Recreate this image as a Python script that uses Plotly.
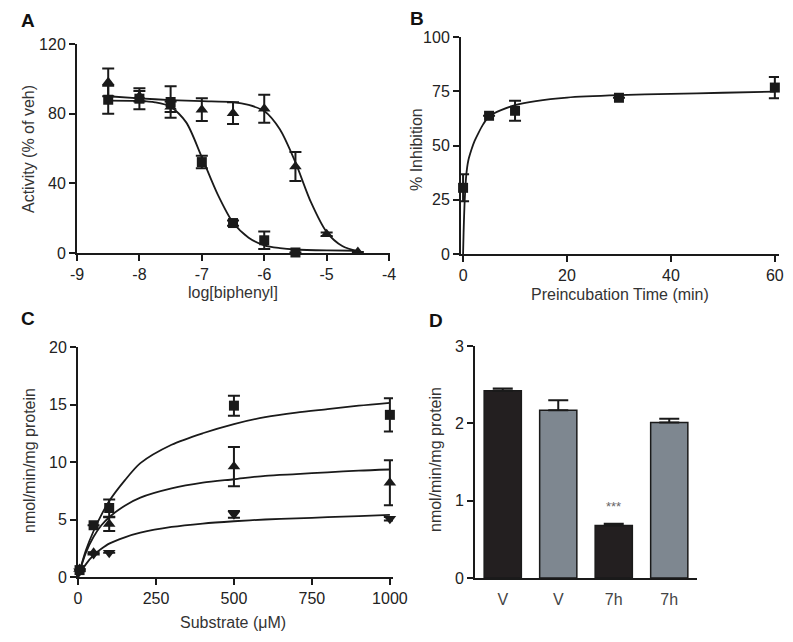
import plotly.graph_objects as go

# ---- panel A: activity vs log[biphenyl]
a_tri_x = [-8.5, -8, -7.5, -7, -6.5, -6, -5.5, -5, -4.5]
a_tri_y = [98, 90, 84, 82.3, 80.3, 82.8, 49.7, 10.7, 0.6]
a_tri_err = [8, 3, 3, 6.5, 6.3, 8, 8.3, 1, 0]
a_sq_x = [-8.5, -8, -7.5, -7, -6.5, -6, -5.5]
a_sq_y = [88, 88.6, 86.7, 52.2, 17.2, 7.3, 0.3]
a_sq_err = [8, 6, 9, 3.6, 1.5, 5, 0]
# fitted curves
a_sq_fit_x = [-8.5, -8, -7.75, -7.5, -7.25, -7, -6.75, -6.5, -6.25, -6, -5.75, -5.5, -5, -4.5]
a_sq_fit_y = [87.5, 87.3, 86.5, 84, 75, 55, 34, 17.5, 8.8, 4.4, 2.8, 2, 1.5, 1.3]
a_tri_fit_x = [-8.5, -8, -7.5, -7, -6.5, -6.25, -6, -5.75, -5.5, -5.25, -5, -4.75, -4.5]
a_tri_fit_y = [90, 88.8, 87.8, 87.2, 86.6, 85, 81.5, 71, 52, 29, 12, 4, 1]
a_ticks = [-9, -8, -7, -6, -5, -4]

# ---- panel B: % inhibition vs preincubation time
b_x = [0, 5, 10, 30, 60]
b_y = [30.5, 63.7, 66, 72, 76.7]
b_err = [6.2, 0, 4.6, 0, 4.9]
b_fit_x = [0, 0.1, 0.3, 0.64, 1, 1.6, 2.2, 2.9, 3.8, 4.8, 6, 7.3, 10, 14, 20, 30, 40, 50, 60]
b_fit_y = [0, 10, 24, 37, 43, 48, 52, 55.5, 59.5, 62.9, 64.9, 66.3, 68.6, 70.5, 72.1, 73.2, 73.8, 74.3, 74.8]

# ---- panel C: rate vs substrate
c_x = [5, 50, 100, 500, 1000]
c_sq = [0.6, 4.5, 6.0, 14.9, 14.1]
c_sq_err = [0, 0, 0.75, 0.87, 1.45]
c_tri = [0.7, 2.1, 4.6, 9.6, 8.2]
c_tri_err = [0, 0, 0.6, 1.7, 1.95]
c_dn = [0.5, 2.0, 2.1, 5.45, 5.07]
c_dn_err = [0, 0, 0, 0.3, 0.15]
c_fit_x = [0, 25, 50, 75, 100, 150, 200, 300, 400, 500, 600, 700, 800, 900, 1000]
c_sq_fit = [0, 2.3, 4.0, 5.4, 6.6, 8.4, 9.9, 11.5, 12.5, 13.3, 13.9, 14.3, 14.6, 14.9, 15.15]
c_tri_fit = [0, 2.1, 3.5, 4.5, 5.2, 6.2, 6.9, 7.7, 8.2, 8.5, 8.8, 8.95, 9.1, 9.25, 9.35]
c_dn_fit = [0, 1.1, 1.9, 2.45, 2.9, 3.45, 3.85, 4.35, 4.65, 4.85, 5.0, 5.1, 5.2, 5.3, 5.4]

# ---- panel D: bars
d_labels = ["V", "V", "7h", "7h"]
d_vals = [2.42, 2.17, 0.68, 2.01]
d_err = [0.03, 0.13, 0.02, 0.05]
d_colors = ["#231f20", "#7e8790", "#231f20", "#7e8790"]

# the page body keeps its default 8px margin, so the figure is drawn 16px
# smaller and all target positions (measured on the 793x642 page) shift by 8
OFF = 8
W, H = 793 - 2 * OFF, 642 - 2 * OFF
INK = "#1a1a1a"
FONT = "Liberation Sans, Arial, sans-serif"


def px(x0, x1):
    return [(x0 - OFF) / W, (x1 - OFF) / W]


def py(top, bottom):
    return [1 - (bottom - OFF) / H, 1 - (top - OFF) / H]


fig = go.Figure()


def pts(x, y, err, sym, size, xa, ya):
    fig.add_trace(go.Scatter(
        x=x, y=y, mode="markers", xaxis=xa, yaxis=ya, cliponaxis=False,
        marker=dict(symbol=sym, size=size, color=INK, line=dict(width=0)),
        error_y=dict(type="data", array=err, visible=True, color=INK, thickness=2, width=6),
        showlegend=False))


def curve(x, y, xa, ya):
    fig.add_trace(go.Scatter(
        x=x, y=y, mode="lines", xaxis=xa, yaxis=ya, cliponaxis=False,
        line=dict(color=INK, width=1.8, shape="spline", smoothing=0.8),
        showlegend=False))


# A
curve(a_sq_fit_x, a_sq_fit_y, "x", "y")
curve(a_tri_fit_x, a_tri_fit_y, "x", "y")
pts(a_tri_x, a_tri_y, a_tri_err, "triangle-up", 11, "x", "y")
pts(a_sq_x, a_sq_y, a_sq_err, "square", 10, "x", "y")
# B
curve(b_fit_x, b_fit_y, "x2", "y2")
pts(b_x, b_y, b_err, "square", 10, "x2", "y2")
# C
curve(c_fit_x, c_sq_fit, "x3", "y3")
curve(c_fit_x, c_tri_fit, "x3", "y3")
curve(c_fit_x, c_dn_fit, "x3", "y3")
pts(c_x, c_dn, c_dn_err, "triangle-down", 11, "x3", "y3")
pts(c_x, c_tri, c_tri_err, "triangle-up", 11, "x3", "y3")
pts(c_x, c_sq, c_sq_err, "square", 10, "x3", "y3")
# D
fig.add_trace(go.Bar(
    x=list(range(len(d_vals))), y=d_vals, xaxis="x4", yaxis="y4", width=0.67,
    marker=dict(color=d_colors, line=dict(color=INK, width=1.5)),
    error_y=dict(type="data", array=d_err, arrayminus=[0] * len(d_err), symmetric=False,
                 visible=True, color=INK, thickness=2, width=10),
    showlegend=False))

axis_common = dict(showline=True, linecolor=INK, linewidth=2, showgrid=False, zeroline=False,
                   ticks="outside", ticklen=6, tickwidth=1.5, tickcolor=INK, automargin=False,
                   tickfont=dict(family=FONT, size=16, color="#222"))

fig.update_layout(
    width=W, height=H, margin=dict(l=0, r=0, t=0, b=0, pad=0), autosize=False,
    paper_bgcolor="white", plot_bgcolor="white",
    # x ranges padded a touch so the end error bars are not cut off
    xaxis=dict(domain=px(77, 390), range=[-9, -3.985], tickvals=a_ticks,
               ticktext=[str(t) for t in a_ticks], anchor="y", **axis_common),
    yaxis=dict(domain=py(44, 253), range=[0, 120], tickvals=[0, 40, 80, 120],
               anchor="x", **axis_common),
    xaxis2=dict(domain=px(461, 779), range=[-0.4, 60.8], tickvals=[0, 20, 40, 60],
                anchor="y2", **axis_common),
    yaxis2=dict(domain=py(37, 254), range=[0, 100], tickvals=[0, 25, 50, 75, 100],
                anchor="x2", **axis_common),
    xaxis3=dict(domain=px(78, 393), range=[0, 1010], tickvals=[0, 250, 500, 750, 1000],
                anchor="y3", **axis_common),
    yaxis3=dict(domain=py(347, 577), range=[0, 20], tickvals=[0, 5, 10, 15, 20],
                anchor="x3", **axis_common),
    xaxis4=dict(domain=px(475, 697), range=[-0.5, 3.5], tickvals=[0, 1, 2, 3],
                ticktext=d_labels, anchor="y4", showline=True, linecolor=INK, linewidth=2,
                showgrid=False, zeroline=False, ticks="", ticklabelstandoff=6, automargin=False,
                tickfont=dict(family=FONT, size=16, color="#444")),
    yaxis4=dict(domain=py(346, 578), range=[0, 3], tickvals=[0, 1, 2, 3],
                anchor="x4", **axis_common),
)

title_font = dict(family=FONT, size=16, color="#333")
letter_font = dict(family=FONT, size=19, color="#111")
notes = [
    # panel letters
    dict(x=28, y=20, text="<b>A</b>", font=letter_font),
    dict(x=417, y=19, text="<b>B</b>", font=letter_font),
    dict(x=28, y=318, text="<b>C</b>", font=letter_font),
    dict(x=436, y=320, text="<b>D</b>", font=letter_font),
    # axis titles
    dict(x=233, y=292, text="log[biphenyl]", font=title_font),
    dict(x=28, y=149, text="Activity (% of veh)", font=title_font, textangle=-90),
    dict(x=620, y=294, text="Preincubation Time (min)", font=title_font),
    dict(x=416, y=149, text="% Inhibition", font=title_font, textangle=-90),
    dict(x=233, y=622, text="Substrate (\u03bcM)", font=title_font),
    dict(x=29, y=461, text="nmol/min/mg protein", font=title_font, textangle=-90),
    dict(x=435, y=460, text="nmol/min/mg protein", font=title_font, textangle=-90),
]
for n in notes:
    fig.add_annotation(x=(n["x"] - OFF) / W, y=1 - (n["y"] - OFF) / H, xref="paper", yref="paper",
                       text=n["text"], showarrow=False, font=n["font"],
                       textangle=n.get("textangle", 0), xanchor="center", yanchor="middle")

fig.add_annotation(x=2, y=d_vals[2] + d_err[2] + 0.1, xref="x4", yref="y4", text="***",
                   showarrow=False, yanchor="bottom",
                   font=dict(family=FONT, size=13, color="#666"))

fig.write_html("out.html")
